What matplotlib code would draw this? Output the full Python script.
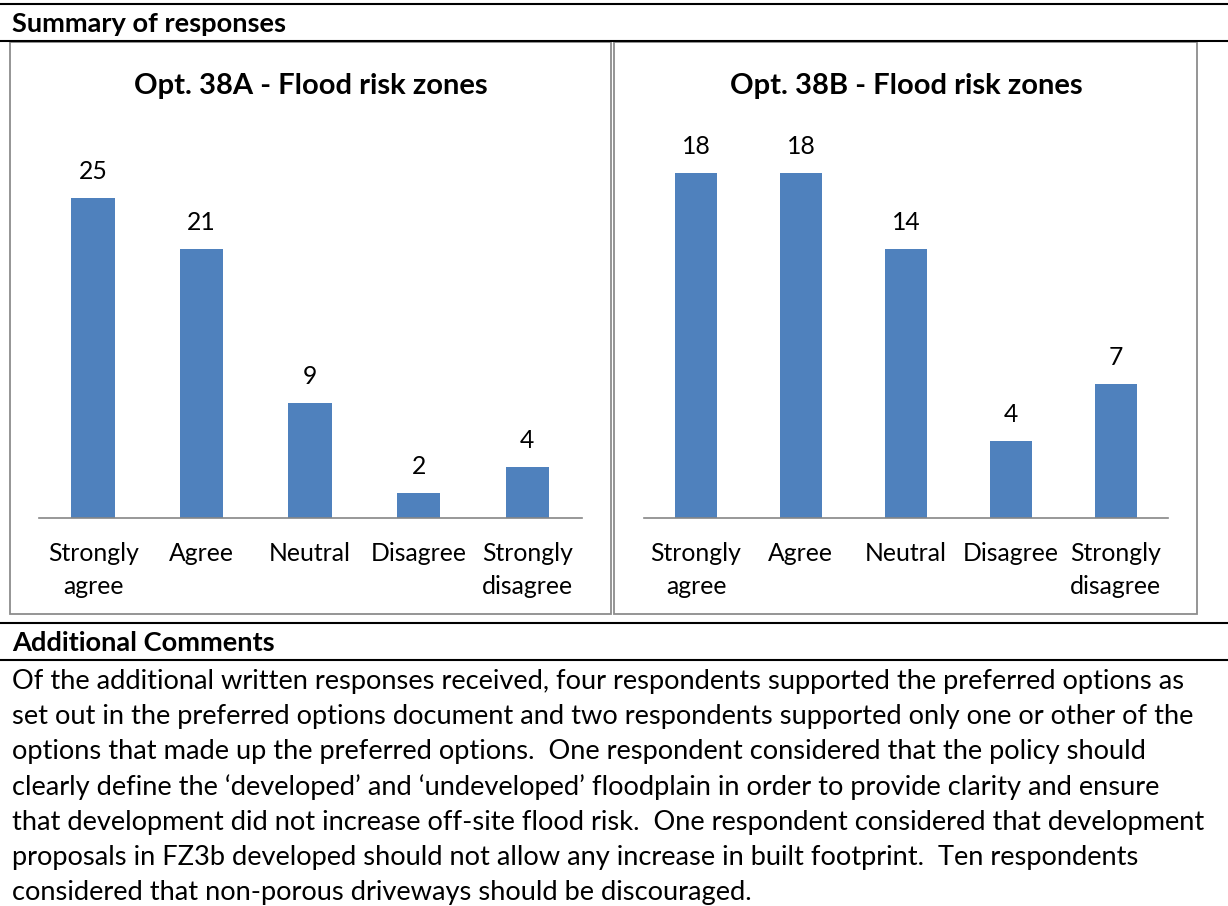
import matplotlib.pyplot as plt
from matplotlib.patches import Rectangle

plt.rcParams['font.family'] = ['Lato', 'DejaVu Sans']

# data
categories = ['Strongly\nagree', 'Agree', 'Neutral', 'Disagree', 'Strongly\ndisagree']
opt_a = [25, 21, 9, 2, 4]
opt_b = [18, 18, 14, 4, 7]
titles = ['Opt. 38A - Flood risk zones', 'Opt. 38B - Flood risk zones']
header = 'Summary of responses'
comments_header = 'Additional Comments'
comment_lines = [
    'Of the additional written responses received, four respondents supported the preferred options as',
    'set out in the preferred options document and two respondents supported only one or other of the',
    'options that made up the preferred options.  One respondent considered that the policy should',
    'clearly define the \u2018developed\u2019 and \u2018undeveloped\u2019 floodplain in order to provide clarity and ensure',
    'that development did not increase off-site flood risk.  One respondent considered that development',
    'proposals in FZ3b developed should not allow any increase in built footprint.  Ten respondents',
    'considered that non-porous driveways should be discouraged.',
]

W, H = 1228, 906
BAR = '#4F81BD'
GRID = '#8c8c8c'
BODY_FS = 19.6
LABEL_FS = 17.8

fig = plt.figure(figsize=(W / 100, H / 100), dpi=100)

# page layer in pixel coordinates
page = fig.add_axes([0, 0, 1, 1])
page.set_xlim(0, W)
page.set_ylim(H, 0)
page.axis('off')


def px_axes(x0, x1, y0, y1):
    return fig.add_axes([x0 / W, (H - y1) / H, (x1 - x0) / W, (y1 - y0) / H])


# table rules
for y in [4, 41, 623, 660]:
    page.plot([0, W], [y, y], color='black', lw=1.5, solid_capstyle='butt')

# chart frames
page.add_patch(Rectangle((10, 42), 600.5, 571.5, fill=False, ec=GRID, lw=1.3))
page.add_patch(Rectangle((614, 42), 582.5, 571.5, fill=False, ec=GRID, lw=1.3))

page.text(12, 32, header, fontsize=BODY_FS, fontweight='bold', va='baseline')
page.text(12, 651, comments_header, fontsize=BODY_FS, fontweight='bold', va='baseline')
for i, line in enumerate(comment_lines):
    page.text(12, 689 + i * 35.2, line, fontsize=BODY_FS, va='baseline')


def draw_chart(ax, values, ymax, title, cx):
    x = list(range(len(values)))
    ax.bar(x, values, width=0.4, color=BAR)
    ax.set_xlim(-0.5, len(values) - 0.5)
    ax.set_ylim(0, ymax)
    for i, v in enumerate(values):
        ax.annotate(str(v), (i, v), xytext=(0, 13.7), textcoords='offset points',
                    ha='center', va='baseline', fontsize=LABEL_FS)
    ax.set_xticks(x, categories)
    ax.tick_params(axis='x', length=0, pad=17.3, labelsize=LABEL_FS)
    for lab in ax.get_xticklabels():
        lab.set_linespacing(1.52)
    ax.set_yticks([])
    for side in ['top', 'left', 'right']:
        ax.spines[side].set_visible(False)
    ax.spines['bottom'].set_color('#868686')
    ax.spines['bottom'].set_linewidth(1.2)
    ax.patch.set_alpha(0)
    page.text(cx, 94, title, fontsize=21, fontweight='bold', ha='center', va='baseline')


ax1 = px_axes(38.8, 581.5, 134.3, 518.3)
draw_chart(ax1, opt_a, 30, titles[0], 311)
ax2 = px_axes(643.6, 1168, 134.3, 518.3)
draw_chart(ax2, opt_b, 20, titles[1], 906)

fig.savefig('out.png', dpi=100)
